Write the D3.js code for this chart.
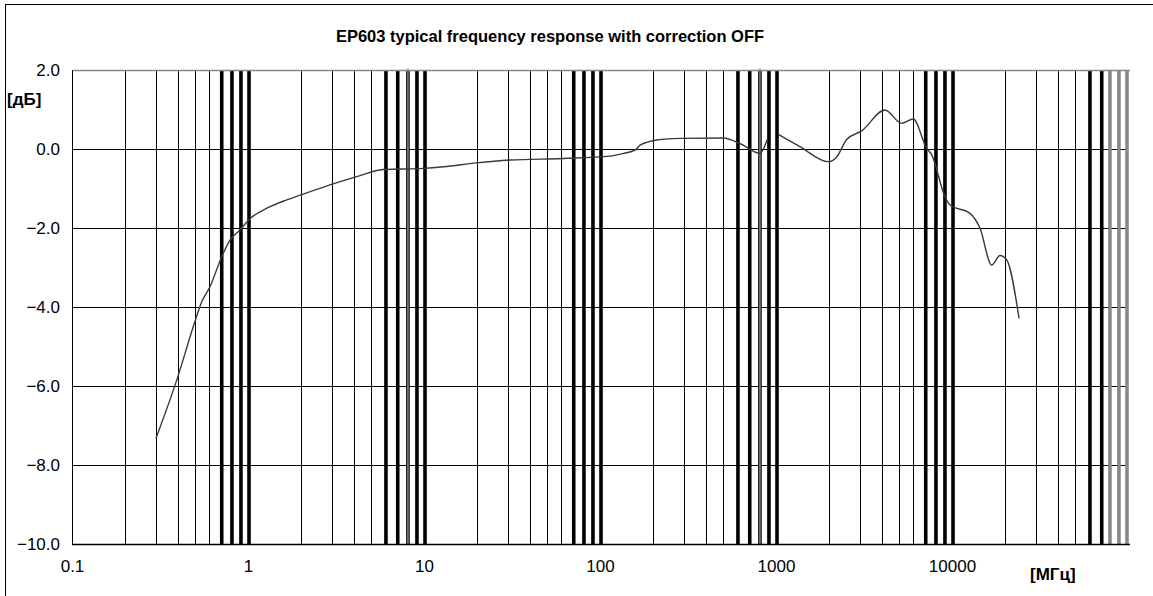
<!DOCTYPE html>
<meta charset="utf-8">
<style>
    body {
        margin: 0;
        background: #fff;
        font-family: "Liberation Sans", Arial, sans-serif;
    }

    .tick text {
        font-size: 17px;
        fill: #000;
    }
</style>

<body>
    <script src="https://d3js.org/d3.v7.min.js"></script>
    <script>

        // frequency response (MHz / dB); null = gap in the trace
        var freq = [0.3, 0.394, 0.489, 0.546, 0.608, 0.709, 0.79, 0.9, 1.03, 1.28, 1.66, 1.98,
            2.92, 4.15, 5.87, 9.9, 12.9, 19.9, 30.8, 61.7, 114, 136, 158, 169, 188, 210, 285, 501,
            624, 811, 891, 960,
            1031, 1368, 1983, 2213, 2520, 3069, 4160, 5176, 6026, 7178, 7670, 9126, 9750, 12650,
            14430, 16800, 18740, 20460, 24040];
        var gain = [-7.32, -5.84, -4.49, -3.86, -3.48, -2.72, -2.30, -2.04, -1.75, -1.49, -1.28, -1.16,
            -0.90, -0.69, -0.51, -0.48, -0.44, -0.34, -0.27, -0.23, -0.17, -0.10, -0.02, 0.11, 0.19, 0.24, 0.28, 0.29,
            0.15, -0.10, 0.25, null,
            0.38, 0.07, -0.31, -0.19, 0.25, 0.47, 1.0, 0.66, 0.77, 0.03, -0.14, -1.2, -1.41, -1.62,
            -2.0, -2.93, -2.69, -2.80, -4.28];

        var xTicks = [0.1, 1, 10, 100, 1000, 10000];
        var xTickLabels = ["0.1", "1", "10", "100", "1000", "10000"];
        var yTicks = [2, 0, -2, -4, -6, -8, -10];

        // gridlines that come out heavy in the original
        var heavyBlack = [0.7, 0.8, 0.9, 1, 6, 7, 8, 9, 10, 70, 80, 90, 100,
            600, 700, 800, 900, 1000, 7000, 8000, 9000, 10000, 60000, 70000];
        var heavyGray = [80000, 90000, 100000];
        var grayMarks = [8, 800];

        var W = 1153, H = 596;
        var pLeft = 72, pRight = 1128, pTop = 70.5, pBottom = 544;

        var svg = d3.select("body").append("svg")
            .attr("width", W)
            .attr("height", H);

        var x = d3.scaleLog().domain([0.1, 100000]).range([pLeft, pRight]);
        var y = d3.scaleLinear().domain([-10, 2]).range([pBottom, pTop]);

        // outer frame
        svg.append("rect")
            .attr("x", 5.5).attr("y", 4.5)
            .attr("width", 1200).attr("height", 700)
            .attr("fill", "none").attr("stroke", "#000");

        // all minor grid positions
        var minor = [];
        [0.1, 1, 10, 100, 1000, 10000].forEach(function (b) {
            for (var m = 2; m <= 10; m++) minor.push(+(b * m).toPrecision(3));
        });
        var thin = minor.filter(function (v) {
            return heavyBlack.indexOf(v) < 0 && heavyGray.indexOf(v) < 0;
        });

        var grid = svg.append("g");

        grid.selectAll(null).data(thin).enter().append("line")
            .attr("x1", function (d) { return Math.round(x(d)) + 0.5; })
            .attr("x2", function (d) { return Math.round(x(d)) + 0.5; })
            .attr("y1", pTop).attr("y2", pBottom)
            .attr("stroke", "#000").attr("stroke-width", 1);

        grid.selectAll(null).data(yTicks.filter(function (d) { return d > -10 && d < 2; })).enter().append("line")
            .attr("x1", pLeft).attr("x2", pRight)
            .attr("y1", function (d) { return Math.round(y(d)) + 0.5; })
            .attr("y2", function (d) { return Math.round(y(d)) + 0.5; })
            .attr("stroke", "#000");

        grid.selectAll(null).data(heavyBlack).enter().append("line")
            .attr("x1", function (d) { return x(d) + 1; })
            .attr("x2", function (d) { return x(d) + 1; })
            .attr("y1", pTop).attr("y2", pBottom)
            .attr("stroke", "#000").attr("stroke-width", 3.6);

        grid.selectAll(null).data(heavyGray).enter().append("line")
            .attr("x1", function (d) { return x(d) - 1; })
            .attr("x2", function (d) { return x(d) - 1; })
            .attr("y1", pTop).attr("y2", pBottom)
            .attr("stroke", "#888").attr("stroke-width", 3.6);

        grid.selectAll(null).data(grayMarks).enter().append("line")
            .attr("x1", function (d) { return x(d) + 1; })
            .attr("x2", function (d) { return x(d) + 1; })
            .attr("y1", pTop - 2).attr("y2", pBottom)
            .attr("stroke", "#888").attr("stroke-width", 1.5);

        // plot border: gray top, black left/bottom
        svg.append("line")
            .attr("x1", pLeft).attr("x2", pRight + 2)
            .attr("y1", pTop).attr("y2", pTop)
            .attr("stroke", "#888").attr("stroke-width", 1.5);
        svg.append("line")
            .attr("x1", pLeft + 0.5).attr("x2", pLeft + 0.5)
            .attr("y1", pTop).attr("y2", pBottom)
            .attr("stroke", "#000");
        svg.append("line")
            .attr("x1", pLeft).attr("x2", pRight + 2)
            .attr("y1", pBottom + 0.5).attr("y2", pBottom + 0.5)
            .attr("stroke", "#000").attr("stroke-width", 1.5);

        // axes (labels only)
        var xAxis = svg.append("g")
            .attr("transform", "translate(0," + pBottom + ")")
            .call(d3.axisBottom(x).tickValues(xTicks).tickSize(0).tickPadding(16)
                .tickFormat(function (d, i) { return xTickLabels[i]; }));
        xAxis.select(".domain").remove();

        var yAxis = svg.append("g")
            .attr("transform", "translate(" + pLeft + ",0)")
            .call(d3.axisLeft(y).tickValues(yTicks).tickSize(0).tickPadding(12)
                .tickFormat(d3.format(".1f")));
        yAxis.select(".domain").remove();
        svg.selectAll(".tick text").attr("font-family", "Liberation Sans, Arial, sans-serif");

        // response curve
        var pts = freq.map(function (f, i) { return [f, gain[i]]; });
        var line = d3.line()
            .defined(function (d) { return d[1] !== null; })
            .x(function (d) { return x(d[0]); })
            .y(function (d) { return y(d[1]); })
            .curve(d3.curveMonotoneX);

        svg.append("path")
            .datum(pts)
            .attr("d", line)
            .attr("fill", "none")
            .attr("stroke", "#3a3a3a")
            .attr("stroke-width", 1.4);

        // title and units
        svg.append("text")
            .attr("x", 550).attr("y", 42)
            .attr("text-anchor", "middle")
            .attr("font-size", "16.5px").attr("font-weight", "bold")
            .text("EP603 typical frequency response with correction OFF");

        svg.append("text")
            .attr("x", 7).attr("y", 105)
            .attr("font-size", "17px").attr("font-weight", "bold")
            .text("[дБ]");

        svg.append("text")
            .attr("x", 1030).attr("y", 580)
            .attr("font-size", "17px").attr("font-weight", "bold")
            .text("[МГц]");

    </script>
</body>
